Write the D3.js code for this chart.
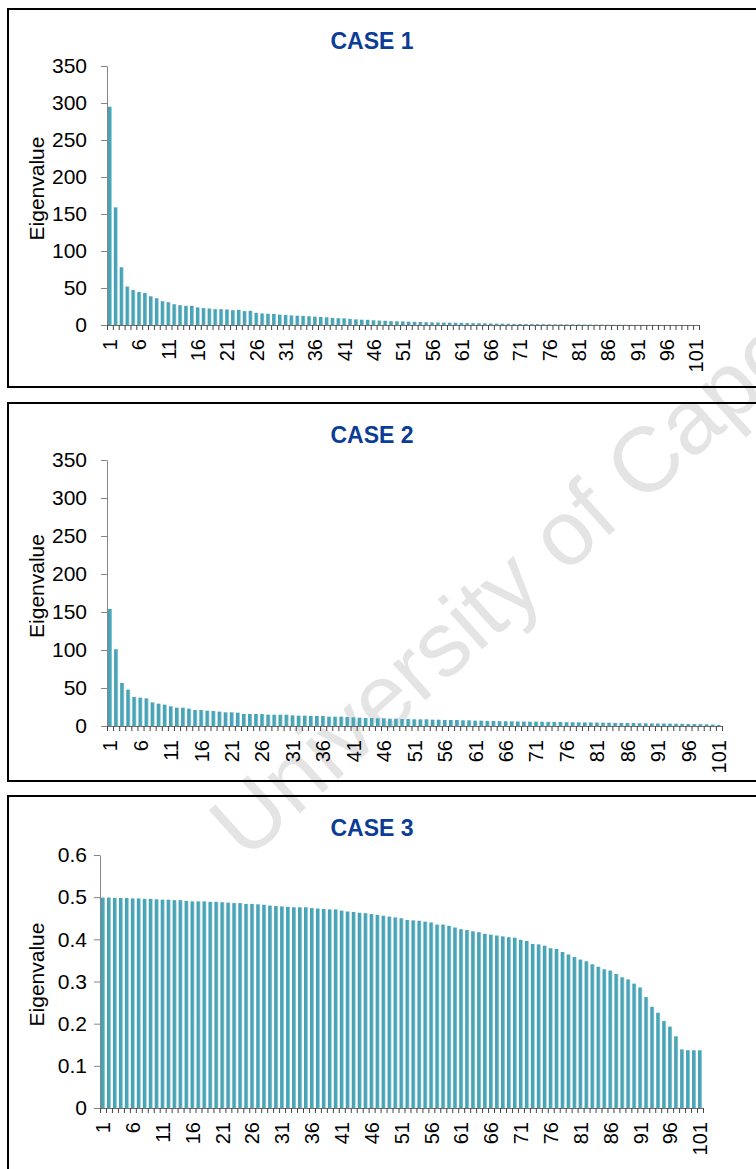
<!DOCTYPE html>
<html>
<head>
<meta charset="utf-8">
<script src="https://cdn.jsdelivr.net/npm/d3@7"></script>
<style>
  body { margin: 0; background: #fff; }
  svg text { font-family: "Liberation Sans", Arial, sans-serif; }
</style>
</head>
<body>
<div class="charts"></div>
<script>
"use strict";

var categories = d3.range(1, 102);
var labelCats = categories.filter(function(d){ return (d - 1) % 5 === 0; });

var case1 = [295,159,78,52,47.3,44.6,43.3,38.8,36.2,32.1,
  30.8,28.1,26.8,25.9,25.9,23.7,22.8,22.3,21.4,21.4,
  21.0,20.0,20.5,18.8,19.2,16.5,15.6,15.2,15.0,14.0,
  13.5,13.0,12.6,12.2,11.8,11.3,10.8,10.4,9.6,9.2,
  9.0,8.3,7.6,7.2,7.0,6.4,6.0,5.7,5.2,5.0,
  4.8,4.5,4.3,4.0,3.8,3.6,3.4,3.2,3.1,3.0,
  2.9,2.7,2.5,2.4,2.2,2.0,1.9,1.8,1.7,1.5,
  1.4,1.3,1.2,1.1,1.05,1.0,0.95,0.9,0.8,0.75,
  0.7,0.65,0.6,0.55,0.45,0.4,0.35,0.3,0.27,0.24,
  0.21,0.19,0.17,0.15,0.13,0.11,0.09,0.08,0.06,0.05,
  0.04];

var case2 = [154,101,56.6,47.8,38.2,37.3,36.4,31.1,29.4,28.1,
  25.9,24.1,24.1,22.8,21.0,21.0,20.2,19.7,18.9,18.0,
  18.0,17.5,15.8,15.8,15.8,15.8,14.9,14.9,14.9,14.9,
  14.0,13.6,13.6,13.2,13.2,13.2,12.3,12.3,12.3,11.8,
  11.4,11.0,10.5,10.5,10.1,10.1,9.6,9.6,9.2,9.2,
  8.8,8.8,8.8,8.3,8.3,7.9,7.9,7.9,7.5,7.5,
  7.0,7.0,6.6,6.6,6.4,6.2,6.1,5.9,5.8,5.7,
  5.7,5.6,5.4,5.3,5.2,5.0,4.9,4.8,4.7,4.6,
  4.5,4.4,4.3,4.1,4.0,3.9,3.8,3.6,3.5,3.4,
  3.3,3.2,3.1,3.0,2.9,2.7,2.6,2.4,2.2,1.9,
  1.3];

var case3 = [0.499,0.499,0.498,0.498,0.498,0.497,0.497,0.496,0.496,0.495,
  0.494,0.494,0.493,0.493,0.491,0.490,0.490,0.490,0.489,0.489,
  0.488,0.487,0.486,0.486,0.484,0.484,0.483,0.482,0.480,0.479,
  0.478,0.477,0.476,0.476,0.476,0.474,0.473,0.472,0.471,0.471,
  0.468,0.466,0.465,0.463,0.462,0.460,0.458,0.456,0.454,0.452,
  0.450,0.446,0.445,0.444,0.442,0.440,0.435,0.435,0.432,0.428,
  0.424,0.422,0.419,0.417,0.413,0.411,0.409,0.407,0.405,0.404,
  0.399,0.396,0.389,0.388,0.385,0.379,0.377,0.370,0.364,0.358,
  0.352,0.348,0.341,0.335,0.329,0.326,0.318,0.310,0.305,0.295,
  0.286,0.263,0.240,0.226,0.206,0.193,0.170,0.139,0.137,0.137,
  0.137];

var yTicksBig = [0,50,100,150,200,250,300,350];
var yTicksSmall = [0,0.1,0.2,0.3,0.4,0.5,0.6];
var titles = ["CASE 1", "CASE 2", "CASE 3"];
var yLabel = "Eigenvalue";

var width = 756,
    height = 1169;

var svg = d3.select(".charts")
  .append("svg")
  .attr("width", width)
  .attr("height", height);

var defs = svg.append("defs");
var grad = defs.append("linearGradient")
  .attr("id", "barFill")
  .attr("x1", "0%").attr("x2", "100%")
  .attr("y1", "0%").attr("y2", "0%");
grad.append("stop").attr("offset", "0%").attr("stop-color", "#459fb2");
grad.append("stop").attr("offset", "68%").attr("stop-color", "#4ba7b9");
grad.append("stop").attr("offset", "100%").attr("stop-color", "#acd9e3");

// watermark sits behind everything
svg.append("text")
  .attr("transform", "translate(246,862) rotate(-42)")
  .style("font-size", "92px")
  .style("fill", "#e4e4e4")
  .text("University of Cape Town");

function drawPanel(values, title, yTicks, box) {

  var g = svg.append("g");

  g.append("rect")
    .attr("x", 8)
    .attr("y", box.top)
    .attr("width", 800)
    .attr("height", box.bottom - box.top)
    .attr("fill", "none")
    .attr("stroke", "#000")
    .attr("stroke-width", 2);

  var x = d3.scaleBand()
    .domain(categories)
    .range([box.x0, box.x1])
    .paddingInner(1/3)
    .paddingOuter(1/6);

  var xEdges = d3.scaleLinear()
    .domain([0, categories.length])
    .range([box.x0, box.x1]);

  var y = d3.scaleLinear()
    .domain([0, yTicks[yTicks.length - 1]])
    .range([box.y0, box.yTop]);

  g.append("g")
    .selectAll("rect")
    .data(values)
    .enter().append("rect")
      .attr("x", function(d, i){ return x(categories[i]); })
      .attr("y", function(d){ return y(d); })
      .attr("width", x.bandwidth())
      .attr("height", function(d){ return box.y0 - y(d); })
      .attr("fill", "url(#barFill)");

  // y axis
  var yAxis = g.append("g")
    .attr("transform", "translate(" + box.x0 + ",0)")
    .call(d3.axisLeft(y)
      .tickValues(yTicks)
      .tickSize(6)
      .tickSizeOuter(0)
      .tickPadding(box.pad)
      .tickFormat(function(d){ return String(d); }));
  yAxis.select(".domain").attr("stroke", "#868686");
  yAxis.selectAll(".tick line").attr("stroke", "#868686");
  yAxis.selectAll("text")
    .style("font-size", "21px")
    .style("font-family", "'Liberation Sans', Arial, sans-serif")
    .attr("fill", "#000");

  // x axis: ticks between categories
  var xTicks = g.append("g")
    .attr("transform", "translate(0," + box.y0 + ")")
    .call(d3.axisBottom(xEdges)
      .tickValues(d3.range(categories.length + 1))
      .tickSize(5)
      .tickSizeOuter(0)
      .tickFormat(""));
  xTicks.select(".domain").attr("stroke", "#6e6e6e");
  xTicks.selectAll(".tick line").attr("stroke", "#444");

  // x axis labels, every fifth category
  var xLab = g.append("g")
    .attr("transform", "translate(0," + box.y0 + ")")
    .call(d3.axisBottom(x)
      .tickValues(labelCats)
      .tickSize(0));
  xLab.select(".domain").remove();
  xLab.selectAll("text")
    .attr("transform", "rotate(-90)")
    .attr("x", -14)
    .attr("y", 0)
    .attr("dy", "0.36em")
    .style("text-anchor", "end")
    .style("font-size", "20px")
    .style("font-family", "'Liberation Sans', Arial, sans-serif")
    .attr("fill", "#000");

  g.append("text")
    .attr("transform", "translate(44," + ((box.y0 + box.yTop) / 2 - 7) + ") rotate(-90)")
    .style("text-anchor", "middle")
    .style("font-size", "21px")
    .text(yLabel);

  g.append("text")
    .attr("x", 372)
    .attr("y", box.top + 40)
    .style("text-anchor", "middle")
    .style("font-size", "23px")
    .style("font-weight", "bold")
    .style("fill", "#0b3c96")
    .text(title);
}

drawPanel(case1, titles[0], yTicksBig,
  { top: 9, bottom: 387, x0: 107, x1: 699, y0: 325, yTop: 66, pad: 14 });
drawPanel(case2, titles[1], yTicksBig,
  { top: 403, bottom: 781, x0: 107, x1: 722, y0: 726, yTop: 460, pad: 14 });
drawPanel(case3, titles[2], yTicksSmall,
  { top: 796, bottom: 1200, x0: 100, x1: 703, y0: 1108, yTop: 855, pad: 7 });
</script>
</body>
</html>
